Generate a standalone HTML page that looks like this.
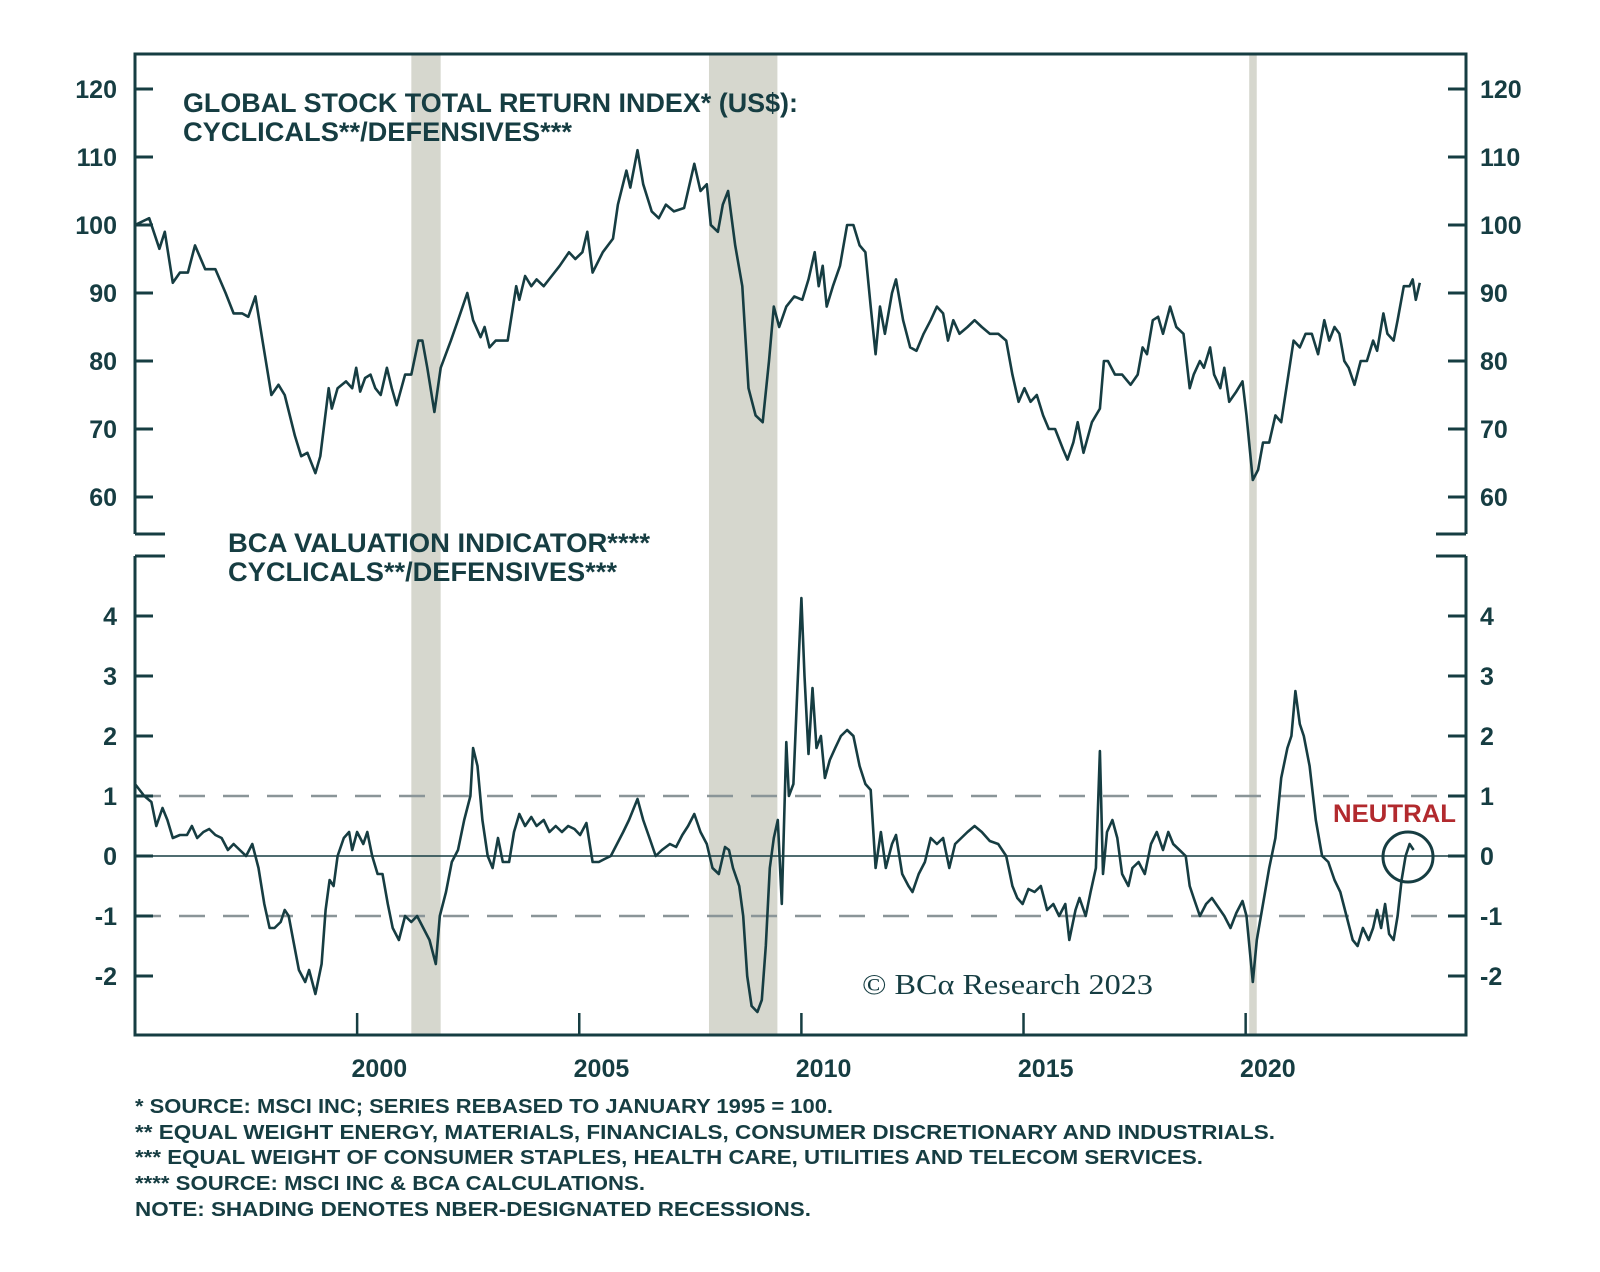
<!DOCTYPE html>
<html><head><meta charset="utf-8"><style>
html,body{margin:0;padding:0;background:#fff;}
svg{display:block;font-family:"Liberation Sans",sans-serif;}
</style></head><body>
<svg id="chart" width="1600" height="1272" viewBox="0 0 1600 1272" xmlns="http://www.w3.org/2000/svg">
<g id="shade"></g>
<g id="frame" stroke="#163d42" stroke-width="3" fill="none">
<path d="M135,534 V54 H1466 V534 M135,534 H165 M1436,534 H1466"/>
<path d="M135,556 V1035 H1466 V556 M135,556 H165 M1436,556 H1466"/>
</g>
<g id="axes"></g>
<g id="series"></g>
<g fill="#163d42" font-weight="bold">
<text x="183" y="112" font-size="27" textLength="615" lengthAdjust="spacingAndGlyphs">GLOBAL STOCK TOTAL RETURN INDEX* (US$):</text>
<text x="183" y="141" font-size="27" textLength="389" lengthAdjust="spacingAndGlyphs">CYCLICALS**/DEFENSIVES***</text>
<text x="228" y="552" font-size="27" textLength="422" lengthAdjust="spacingAndGlyphs">BCA VALUATION INDICATOR****</text>
<text x="228" y="581" font-size="27" textLength="389" lengthAdjust="spacingAndGlyphs">CYCLICALS**/DEFENSIVES***</text>
</g>
<text x="1333" y="822" font-size="25" font-weight="bold" fill="#b22a2e" textLength="123" lengthAdjust="spacingAndGlyphs">NEUTRAL</text>
<circle cx="1408" cy="857" r="25" fill="none" stroke="#163d42" stroke-width="3"/>
<text x="862" y="994" font-size="28" font-family="'Liberation Serif',serif" fill="#163d42" textLength="291" lengthAdjust="spacingAndGlyphs">© BCα Research 2023</text>
<g fill="#163d42" font-size="20" font-weight="bold">
<text x="135" y="1113" textLength="698" lengthAdjust="spacingAndGlyphs">* SOURCE: MSCI INC; SERIES REBASED TO JANUARY 1995 = 100.</text>
<text x="135" y="1139" textLength="1140" lengthAdjust="spacingAndGlyphs">** EQUAL WEIGHT ENERGY, MATERIALS, FINANCIALS, CONSUMER DISCRETIONARY AND INDUSTRIALS.</text>
<text x="135" y="1164" textLength="1068" lengthAdjust="spacingAndGlyphs">*** EQUAL WEIGHT OF CONSUMER STAPLES, HEALTH CARE, UTILITIES AND TELECOM SERVICES.</text>
<text x="135" y="1190" textLength="510" lengthAdjust="spacingAndGlyphs">**** SOURCE: MSCI INC &amp; BCA CALCULATIONS.</text>
<text x="135" y="1216" textLength="676" lengthAdjust="spacingAndGlyphs">NOTE: SHADING DENOTES NBER-DESIGNATED RECESSIONS.</text>
</g>
</svg>
<script>
const recessionStarts=[2001.22,2007.92,2020.08];
const recessionEnds=[2001.88,2009.46,2020.25];
const topTicks=[60,70,80,90,100,110,120];
const bottomTicks=[-2,-1,0,1,2,3,4];
const bottomTickLabels=["-2","-1","0","1","2","3","4"];
const yearTicks=[2000,2005,2010,2015,2020];
const topDates=[1995.00,1995.32,1995.55,1995.67,1995.85,1996.01,1996.19,1996.35,1996.58,1996.81,1997.04,1997.22,1997.41,1997.55,1997.71,1997.87,1998.07,1998.23,1998.37,1998.60,1998.74,1998.88,1999.06,1999.17,1999.36,1999.43,1999.56,1999.75,1999.89,1999.98,2000.07,2000.18,2000.30,2000.41,2000.53,2000.67,2000.78,2000.89,2001.08,2001.22,2001.38,2001.47,2001.58,2001.74,2001.88,2002.11,2002.27,2002.48,2002.61,2002.78,2002.87,2002.98,2003.12,2003.39,2003.58,2003.65,2003.78,2003.92,2004.04,2004.20,2004.38,2004.56,2004.77,2004.91,2005.07,2005.18,2005.30,2005.53,2005.76,2005.87,2006.06,2006.15,2006.31,2006.44,2006.63,2006.79,2006.95,2007.13,2007.36,2007.59,2007.73,2007.87,2007.96,2008.12,2008.23,2008.35,2008.51,2008.67,2008.81,2008.97,2009.13,2009.27,2009.38,2009.50,2009.66,2009.84,2010.02,2010.16,2010.30,2010.39,2010.48,2010.57,2010.71,2010.87,2011.03,2011.17,2011.31,2011.44,2011.56,2011.67,2011.77,2011.88,2012.04,2012.13,2012.29,2012.45,2012.59,2012.75,2012.91,2013.05,2013.19,2013.30,2013.42,2013.56,2013.74,2013.90,2014.06,2014.24,2014.43,2014.61,2014.75,2014.89,2015.02,2015.16,2015.30,2015.44,2015.57,2015.71,2015.89,2015.99,2016.12,2016.22,2016.35,2016.54,2016.72,2016.81,2016.90,2017.06,2017.22,2017.41,2017.57,2017.68,2017.78,2017.91,2018.03,2018.14,2018.30,2018.44,2018.60,2018.74,2018.83,2018.97,2019.06,2019.20,2019.29,2019.43,2019.52,2019.63,2019.79,2019.93,2020.02,2020.16,2020.28,2020.39,2020.53,2020.67,2020.80,2020.94,2021.08,2021.22,2021.35,2021.49,2021.63,2021.77,2021.88,2022.00,2022.11,2022.22,2022.32,2022.45,2022.59,2022.73,2022.87,2022.96,2023.10,2023.19,2023.33,2023.42,2023.56,2023.69,2023.76,2023.83,2023.92];
const topValues=[100,101,96.5,99,91.5,93,93,97,93.5,93.5,90,87,87,86.5,89.5,83,75,76.5,75,69,66,66.5,63.5,66,76,73,76,77,76,79,75.5,77.5,78,76,75,79,76,73.5,78,78,83,83,79,72.5,79,83,86,90,86,83.5,85,82,83,83,91,89,92.5,91,92,91,92.5,94,96,95,96,99,93,96,98,103,108,105.5,111,106,102,101,103,102,102.5,109,105,106,100,99,103,105,97,91,76,72,71,80,88,85,88,89.5,89,92,96,91,94,88,91,94,100,100,97,96,88,81,88,84,90,92,86,82,81.5,84,86,88,87,83,86,84,85,86,85,84,84,83,78,74,76,74,75,72,70,70,67,65.5,68,71,66.5,71,73,80,80,78,78,76.5,78,82,81,86,86.5,84,88,85,84,76,78,80,79,82,78,76,79,74,75.5,77,72,62.5,64,68,68,72,71,77,83,82,84,84,81,86,83,85,84,80,79,76.5,80,80,83,81.5,87,84,83,86,91,91,92,89,91.5];
const botDates=[1995.00,1995.21,1995.37,1995.48,1995.62,1995.73,1995.85,1996.01,1996.17,1996.28,1996.40,1996.54,1996.67,1996.81,1996.95,1997.09,1997.22,1997.36,1997.50,1997.64,1997.78,1997.91,1998.03,1998.14,1998.28,1998.37,1998.46,1998.56,1998.69,1998.83,1998.92,1999.06,1999.20,1999.29,1999.38,1999.47,1999.56,1999.70,1999.82,1999.89,2000.00,2000.14,2000.23,2000.34,2000.46,2000.57,2000.69,2000.80,2000.94,2001.08,2001.22,2001.35,2001.49,2001.63,2001.77,2001.86,2002.00,2002.13,2002.27,2002.41,2002.55,2002.61,2002.71,2002.82,2002.94,2003.05,2003.17,2003.28,2003.42,2003.53,2003.65,2003.78,2003.92,2004.04,2004.20,2004.33,2004.47,2004.61,2004.75,2004.89,2005.02,2005.16,2005.30,2005.44,2005.57,2005.71,2005.85,2005.99,2006.12,2006.31,2006.44,2006.58,2006.72,2006.86,2007.04,2007.18,2007.32,2007.45,2007.59,2007.73,2007.87,2008.00,2008.14,2008.28,2008.37,2008.46,2008.60,2008.69,2008.78,2008.88,2009.01,2009.11,2009.20,2009.29,2009.38,2009.47,2009.56,2009.66,2009.72,2009.82,2009.91,2010.00,2010.07,2010.16,2010.25,2010.34,2010.44,2010.53,2010.64,2010.76,2010.89,2011.03,2011.17,2011.31,2011.44,2011.56,2011.67,2011.79,2011.90,2012.04,2012.13,2012.27,2012.41,2012.50,2012.64,2012.78,2012.91,2013.05,2013.19,2013.33,2013.46,2013.60,2013.74,2013.90,2014.06,2014.24,2014.43,2014.61,2014.75,2014.86,2014.98,2015.11,2015.25,2015.39,2015.53,2015.67,2015.80,2015.94,2016.03,2016.17,2016.26,2016.40,2016.51,2016.63,2016.72,2016.79,2016.88,2017.00,2017.11,2017.22,2017.36,2017.45,2017.59,2017.73,2017.87,2018.00,2018.14,2018.26,2018.37,2018.51,2018.65,2018.74,2018.83,2018.97,2019.11,2019.24,2019.38,2019.52,2019.66,2019.79,2019.93,2020.02,2020.16,2020.25,2020.39,2020.53,2020.67,2020.80,2020.94,2021.03,2021.12,2021.22,2021.31,2021.44,2021.58,2021.72,2021.86,2022.00,2022.13,2022.27,2022.41,2022.52,2022.64,2022.77,2022.87,2022.96,2023.05,2023.14,2023.23,2023.33,2023.42,2023.51,2023.60,2023.69,2023.78];
const botValues=[1.2,1.0,0.9,0.5,0.8,0.6,0.3,0.35,0.35,0.5,0.3,0.4,0.45,0.35,0.3,0.1,0.2,0.1,0.0,0.2,-0.2,-0.8,-1.2,-1.2,-1.1,-0.9,-1.0,-1.4,-1.9,-2.1,-1.9,-2.3,-1.8,-0.9,-0.4,-0.5,0.0,0.3,0.4,0.1,0.4,0.2,0.4,0.0,-0.3,-0.3,-0.8,-1.2,-1.4,-1.0,-1.1,-1.0,-1.2,-1.4,-1.8,-1.0,-0.6,-0.1,0.1,0.6,1.0,1.8,1.5,0.6,0.0,-0.2,0.3,-0.1,-0.1,0.4,0.7,0.5,0.65,0.5,0.6,0.4,0.5,0.4,0.5,0.45,0.35,0.55,-0.1,-0.1,-0.05,0.0,0.2,0.4,0.6,0.95,0.6,0.3,0.0,0.1,0.2,0.15,0.35,0.5,0.7,0.4,0.2,-0.2,-0.3,0.15,0.1,-0.2,-0.5,-1.0,-2.0,-2.5,-2.6,-2.4,-1.5,-0.2,0.3,0.6,-0.8,1.9,1.0,1.2,2.8,4.3,3.0,1.7,2.8,1.8,2.0,1.3,1.6,1.8,2.0,2.1,2.0,1.5,1.2,1.1,-0.2,0.4,-0.2,0.2,0.35,-0.3,-0.5,-0.6,-0.3,-0.1,0.3,0.2,0.3,-0.2,0.2,0.3,0.4,0.5,0.4,0.25,0.2,0.0,-0.5,-0.7,-0.8,-0.55,-0.6,-0.5,-0.9,-0.8,-1.0,-0.8,-1.4,-0.9,-0.7,-1.0,-0.6,-0.2,1.75,-0.3,0.4,0.6,0.3,-0.3,-0.5,-0.2,-0.1,-0.3,0.2,0.4,0.1,0.4,0.2,0.1,0.0,-0.5,-0.7,-1.0,-0.8,-0.7,-0.85,-1.0,-1.2,-0.95,-0.75,-1.0,-2.1,-1.4,-0.8,-0.2,0.3,1.3,1.8,2.0,2.75,2.2,2.0,1.5,0.6,0.0,-0.1,-0.4,-0.6,-1.0,-1.4,-1.5,-1.2,-1.4,-1.2,-0.9,-1.2,-0.8,-1.3,-1.4,-1.0,-0.4,0.0,0.2,0.1];

const NS='http://www.w3.org/2000/svg';
const X0=135,X1=1466,T0=1995,T1=2024.96;
function xs(t){return X0+(t-T0)*(X1-X0)/(T1-T0);}
function yTop(v){return 89+(120-v)*6.8;}
function yBot(v){return 856-v*60;}
function mk(tag,attrs,parent){const e=document.createElementNS(NS,tag);for(const k in attrs)e.setAttribute(k,attrs[k]);parent.appendChild(e);return e;}
const shade=document.getElementById('shade'),axes=document.getElementById('axes'),series=document.getElementById('series');
const C='#163d42';
recessionStarts.forEach((s,i)=>{
  const r=mk('rect',{x:xs(s),y:54,width:xs(recessionEnds[i])-xs(s),height:981,fill:'#d6d7ce'},shade);
  
  
});
topTicks.forEach(v=>{
  const y=yTop(v);
  const l=mk('path',{d:`M${X0},${y}H${X0+18}M${X1-18},${y}H${X1}`,stroke:C,'stroke-width':3},axes);
  
  
  const a=mk('text',{x:117,y:y+9,'text-anchor':'end','font-size':25,'font-weight':'bold',fill:C},axes);a.textContent=v;
  
  
  const b=mk('text',{x:1480,y:y+9,'font-size':25,'font-weight':'bold',fill:C},axes);b.textContent=v;
  
  
});
[-1,1].forEach(v=>{
  const d=mk('line',{x1:X0,x2:X1,y1:yBot(v),y2:yBot(v),stroke:'#8a9598','stroke-width':2.5,'stroke-dasharray':'26,18'},axes);
  
  
});
const z=mk('line',{x1:X0,x2:X1,y1:yBot(0),y2:yBot(0),stroke:C,'stroke-width':1.5},axes);


bottomTicks.forEach((v,i)=>{
  const y=yBot(v);
  const l=mk('path',{d:`M${X0},${y}H${X0+18}M${X1-18},${y}H${X1}`,stroke:C,'stroke-width':3},axes);
  
  
  const a=mk('text',{x:117,y:y+9,'text-anchor':'end','font-size':25,'font-weight':'bold',fill:C},axes);a.textContent=bottomTickLabels[i];
  
  
  const b=mk('text',{x:1480,y:y+9,'font-size':25,'font-weight':'bold',fill:C},axes);b.textContent=bottomTickLabels[i];
  
  
});
yearTicks.forEach(yr=>{
  const x=xs(yr);
  const l=mk('line',{x1:x,x2:x,y1:1035,y2:1013,stroke:C,'stroke-width':2.5},axes);
  
  
  const t=mk('text',{x:xs(yr+0.5),y:1077,'text-anchor':'middle','font-size':25,'font-weight':'bold',fill:C},axes);t.textContent=yr;
  
  
});
const p1=mk('polyline',{points:topDates.map((d,i)=>xs(d).toFixed(1)+','+yTop(topValues[i]).toFixed(1)).join(' '),fill:'none',stroke:C,'stroke-width':2.6,'stroke-linejoin':'round'},series);


const p2=mk('polyline',{points:botDates.map((d,i)=>xs(d).toFixed(1)+','+yBot(botValues[i]).toFixed(1)).join(' '),fill:'none',stroke:C,'stroke-width':2.6,'stroke-linejoin':'round'},series);


</script>
</body></html>
